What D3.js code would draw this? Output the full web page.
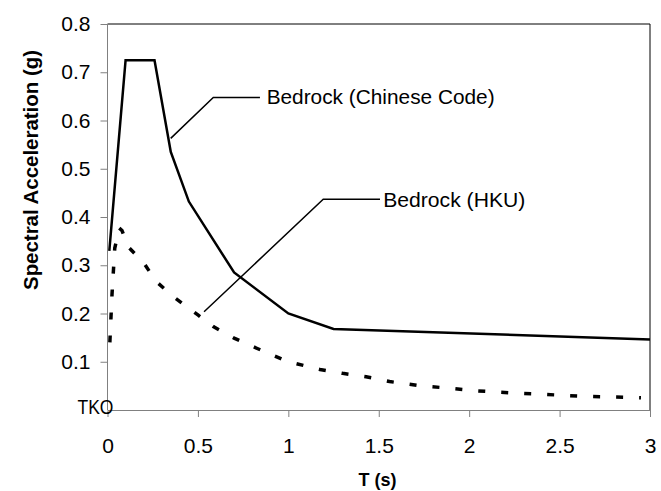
<!DOCTYPE html>
<html>
<head>
<meta charset="utf-8">
<script src="https://cdn.jsdelivr.net/npm/d3@7"></script>
<style>
  html, body { margin: 0; padding: 0; background: #fff; }
  svg { display: block; font-family: "Liberation Sans", Arial, sans-serif; }
</style>
</head>
<body>
<svg id="chart" width="661" height="491"></svg>
<script>
// ---- data ----
const chinesePeriods = [0.01, 0.10, 0.26, 0.35, 0.45, 0.70, 1.00, 1.25, 3.00];
const chineseValues  = [0.33, 0.725, 0.725, 0.535, 0.432, 0.285, 0.200, 0.168, 0.146];

const hkuPeriods = [0.013, 0.025, 0.04, 0.065, 0.08, 0.115, 0.20, 0.27, 0.37, 0.50, 0.585, 0.70, 0.825, 1.00, 1.175, 1.30, 1.43, 1.56, 1.73, 1.90, 2.03, 2.16, 2.28, 2.41, 2.54, 2.67, 2.80, 2.95];
const hkuValues  = [0.14, 0.24, 0.335, 0.377, 0.372, 0.338, 0.305, 0.266, 0.233, 0.197, 0.173, 0.149, 0.128, 0.100, 0.084, 0.076, 0.069, 0.059, 0.050, 0.045, 0.040, 0.037, 0.0345, 0.0325, 0.030, 0.028, 0.027, 0.0255];

const xTicks = [0, 0.5, 1, 1.5, 2, 2.5, 3];
const yTicks = [0.1, 0.2, 0.3, 0.4, 0.5, 0.6, 0.7, 0.8];

const seriesNames = ["Bedrock (Chinese Code)", "Bedrock (HKU)"];
// leader lines in data units: [start on curve, elbow, end]
const chineseLeaderT = [0.3495, 0.585, 0.843];
const chineseLeaderV = [0.563, 0.6477, 0.6477];
const hkuLeaderT = [0.534, 1.193, 1.507];
const hkuLeaderV = [0.2037, 0.4367, 0.4367];
const labelT = [0.880, 1.525];
const labelV = [0.634, 0.421];

const siteLabel = "TKO";
const xTitle = "T (s)";
const yTitle = "Spectral Acceleration (g)";

// ---- drawing ----
const svg = d3.select("#chart");
const x = d3.scaleLinear().domain([0, 3]).range([107.5, 650]);
const y = d3.scaleLinear().domain([0, 0.8]).range([410, 24]);

svg.append("rect").attr("width", 661).attr("height", 491).attr("fill", "#fff");

// top & right frame (black)
svg.append("path")
  .attr("d", `M${x(0)},${y(0.8)}H${x(3)}V${y(0)}`)
  .attr("fill", "none").attr("stroke", "#000").attr("stroke-width", 1);

// axes
const gx = svg.append("g").attr("transform", `translate(0,${y(0)})`)
  .call(d3.axisBottom(x).tickValues(xTicks).tickSize(7).tickSizeOuter(0).tickFormat(d3.format("")));
gx.select(".domain").attr("stroke", "#808080");
gx.selectAll(".tick line").attr("stroke", "#808080");
gx.selectAll(".tick text").attr("y", 43).attr("dy", 0)
  .attr("font-size", 21).attr("fill", "#000").attr("font-family", "Liberation Sans, Arial, sans-serif");

const gy = svg.append("g").attr("transform", `translate(${x(0)},0)`)
  .call(d3.axisLeft(y).tickValues(yTicks).tickSize(7).tickSizeOuter(0).tickPadding(10).tickFormat(d3.format(".1f")));
gy.select(".domain").attr("stroke", "#808080").attr("d", `M0,${y(0)}V${y(0.8)}`);
gy.selectAll(".tick line").attr("stroke", "#808080");
gy.selectAll(".tick text").attr("font-size", 21).attr("fill", "#000")
  .attr("font-family", "Liberation Sans, Arial, sans-serif");

// series
const line = d3.line().x(d => x(d[0])).y(d => y(d[1]));
const chinese = chinesePeriods.map((t, i) => [t, chineseValues[i]]);
const hku = hkuPeriods.map((t, i) => [t, hkuValues[i]]);

svg.append("path").datum(hku).attr("d", line)
  .attr("fill", "none").attr("stroke", "#000").attr("stroke-width", 3.5)
  .attr("stroke-dasharray", "7,16");

svg.append("path").datum(chinese).attr("d", line)
  .attr("fill", "none").attr("stroke", "#000").attr("stroke-width", 2.5)
  .attr("stroke-linejoin", "miter");

// leader lines
[[chineseLeaderT, chineseLeaderV], [hkuLeaderT, hkuLeaderV]].forEach(([ts, vs]) => {
  svg.append("path").datum(ts.map((t, i) => [t, vs[i]])).attr("d", line)
    .attr("fill", "none").attr("stroke", "#000").attr("stroke-width", 1.5);
});

// series labels
const labelLengths = [228, 142];
seriesNames.forEach((name, i) => {
  svg.append("text")
    .attr("x", x(labelT[i])).attr("y", y(labelV[i]))
    .attr("font-size", 21).attr("fill", "#000")
    .attr("textLength", labelLengths[i]).attr("lengthAdjust", "spacingAndGlyphs")
    .text(name);
});

// site label
svg.append("text")
  .attr("x", 77.5).attr("y", 413.5)
  .attr("font-size", 20).attr("fill", "#000")
  .attr("textLength", 36).attr("lengthAdjust", "spacingAndGlyphs")
  .text(siteLabel);

// axis titles
svg.append("text")
  .attr("x", 377.5).attr("y", 486).attr("text-anchor", "middle")
  .attr("font-size", 19).attr("font-weight", "bold").attr("fill", "#000")
  .attr("textLength", 38).attr("lengthAdjust", "spacingAndGlyphs")
  .text(xTitle);

svg.append("text")
  .attr("transform", "translate(38,170) rotate(-90)")
  .attr("text-anchor", "middle")
  .attr("font-size", 21).attr("font-weight", "bold").attr("fill", "#000")
  .attr("textLength", 240).attr("lengthAdjust", "spacingAndGlyphs")
  .text(yTitle);
</script>
</body>
</html>
